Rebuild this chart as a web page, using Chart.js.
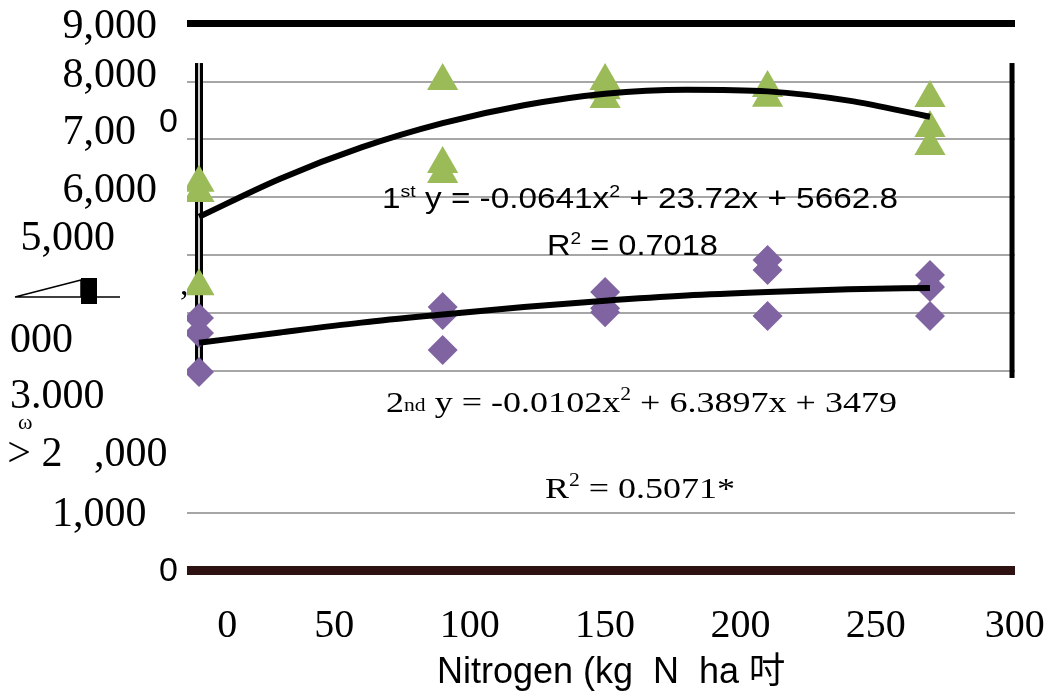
<!DOCTYPE html>
<html><head><meta charset="utf-8">
<script src="https://cdn.jsdelivr.net/npm/chart.js@4.4.1/dist/chart.umd.min.js"></script>
<style>html,body{margin:0;padding:0;background:#fff;}canvas{display:block;}</style>
</head><body>
<canvas id="c" width="1050" height="698"></canvas>
<script>
// ---- data ----
const nRates1 = [0,0,0, 90,90,90, 150,150,150, 210,210, 270,270,270];
const yield1  = [6250,6070,4460, 8010,6575,6400, 8010,7850,7700, 7890,7720, 7716,7197,6886];
const nRates2 = [0,0,0, 90,90,90, 150,150,150, 210,210,210, 270,270,270];
const yield2  = [3910,3650,2976, 4100,3962,3356, 4360,4080,4010, 4913,4740,3945, 4654,4446,3945];
const trendX  = [0,30,60,90,120,150,180,210,240,270];
const trend1  = [5660,6320,6860,7280,7590,7790,7860,7830,7670,7390];
const trend2  = [3480,3660,3830,3970,4100,4210,4300,4360,4405,4430];
const xTickLabels = ['0','50','100','150','200','250','300'];
const yTickLabels = ['9,000','8,000','7,00','0','6,000','5,000','000','3.000','> 2   ,000','1,000','0'];
const xTitle = '  Nitrogen (kg  N  ha 吋';

// ---- layout (not data) ----
const X_MIN=-4.43, X_MAX=301.4, Y_MIN=-484, Y_MAX=9030;
const xTickAt = [10.4,50,100,150,200,250,301.3];
const yTickAt = [8936,8097,7111,7284,6107,5277,3512,2543,1540,502,-484];
const yTickSpaces = [2,2,4,0,2,6,10,7,1,3,0];
const yGridAt = [-450,540,3000,4000,5000,6000,7000,8000,9000];

const pts = (xs, ys) => xs.map((v,i)=>({x:v,y:ys[i]}));

function rich(ctx, parts, x0, base, targetW){
  let w=0;
  parts.forEach(p=>{ctx.font=p.f; p.w=ctx.measureText(p.t).width; w+=p.w;});
  const s = targetW ? targetW/w : 1;
  ctx.save(); ctx.translate(x0, base); ctx.scale(s,1);
  ctx.textAlign='left'; ctx.textBaseline='alphabetic'; ctx.fillStyle='#000';
  let cx=0;
  parts.forEach(p=>{ctx.font=p.f; ctx.fillText(p.t, cx, p.dy||0); cx+=p.w;});
  ctx.restore();
}

const SANS='"Liberation Sans", Arial, sans-serif';
const SERIF='"Liberation Serif", "Times New Roman", serif';
const noPad = s => { s.paddingLeft=0; s.paddingRight=0; s.paddingTop=0; s.paddingBottom=0; };

const decor = {
  id:'decor',
  beforeDatasetsDraw(chart){
    const {ctx, scales:{x,y}} = chart;
    const top = y.getPixelForValue(8320), bot = y.getPixelForValue(2890);
    const xl = x.getPixelForValue(0), xr = x.getPixelForValue(300.3);
    ctx.save();
    ctx.fillStyle='#000';
    ctx.fillRect(xl-4, top, 8, bot-top);
    ctx.fillStyle='#fff';
    ctx.fillRect(xl-0.8, top, 1.6, bot-top);
    ctx.fillStyle='#000';
    ctx.fillRect(xr-2.5, top, 5, bot-top+1);
    ctx.restore();
  },
  afterDraw(chart){
    const ctx = chart.ctx;
    const s28 = '29px '+SANS, s17='17px '+SANS;
    rich(ctx,[{t:'1',f:s28},{t:'st',f:s17,dy:-11},{t:' y = -0.0641x',f:s28},{t:'2',f:s17,dy:-11},{t:' + 23.72x + 5662.8',f:s28}],382,208,516);
    rich(ctx,[{t:'R',f:s28},{t:'2',f:s17,dy:-11},{t:' = 0.7018',f:s28}],547,255,171);
    const t30='30px '+SERIF, t18='18px '+SERIF;
    rich(ctx,[{t:'2',f:t30},{t:'nd',f:t18,dy:-1},{t:' y = -0.0102x',f:t30},{t:'2',f:t18,dy:-12},{t:' + 6.3897x + 3479',f:t30}],386,412,511);
    rich(ctx,[{t:'R',f:t30},{t:'2',f:t18,dy:-12},{t:' = 0.5071*',f:t30}],545,498,190);
    // stray marks of the scanned axis
    ctx.save();
    ctx.fillStyle='#000'; ctx.font='22px '+SERIF; ctx.textAlign='left'; ctx.textBaseline='middle';
    ctx.fillText('ω',18,423);
    ctx.font='34px '+SERIF; ctx.fillText(',',180,286);
    ctx.strokeStyle='#000'; ctx.lineWidth=1.5;
    ctx.beginPath(); ctx.moveTo(15,297); ctx.lineTo(81,280); ctx.lineTo(81,297); ctx.moveTo(15,297); ctx.lineTo(120,297); ctx.stroke();
    ctx.fillRect(81,278,16,26);
    ctx.restore();
  }
};

new Chart(document.getElementById('c'), {
  type:'scatter',
  data:{
    datasets:[
      {type:'line', data:pts(trendX,trend1), borderColor:'#000', borderWidth:6, pointRadius:0, cubicInterpolationMode:'monotone', fill:false},
      {type:'line', data:pts(trendX,trend2), borderColor:'#000', borderWidth:6, pointRadius:0, cubicInterpolationMode:'monotone', fill:false},
      {data:pts(nRates1,yield1), pointStyle:'triangle', pointRadius:18, backgroundColor:'#9BBB59', borderColor:'#9BBB59', borderWidth:0},
      {data:pts(nRates2,yield2), pointStyle:'rectRot', pointRadius:15, backgroundColor:'#8064A2', borderColor:'#8064A2', borderWidth:0}
    ]
  },
  options:{
    responsive:false, animation:false, events:[],
    layout:{padding:{top:22,right:35,bottom:0,left:0}},
    plugins:{legend:{display:false}, tooltip:{enabled:false}},
    scales:{
      x:{type:'linear', min:X_MIN, max:X_MAX, display:false},
      xl:{type:'linear', position:'bottom', min:X_MIN, max:X_MAX,
        grid:{display:false, drawTicks:false}, border:{display:false},
        afterBuildTicks:s=>{s.ticks = xTickAt.map(v=>({value:v}));},
        afterFit:s=>{s.height = 698-572; noPad(s);},
        ticks:{autoSkip:false, maxRotation:0, padding:30, color:'#000',
          font:{family:SERIF, size:40},
          callback:(v,i)=>xTickLabels[i]},
        title:{display:true, text:xTitle, color:'#000', font:{family:SANS+', "Noto Sans CJK SC"', size:36}, padding:{top:0,bottom:3}}
      },
      y:{type:'linear', position:'left', min:Y_MIN, max:Y_MAX,
        ticks:{display:false}, border:{display:false},
        afterBuildTicks:s=>{s.ticks = yGridAt.map(v=>({value:v}));},
        afterFit:s=>{s.width = 0; noPad(s);},
        grid:{drawTicks:false,
          color:c=>c.tick.value===9000?'#000':(c.tick.value===-450?'#2e1212':'#a6a6a6'),
          lineWidth:c=>c.tick.value===9000?7:(c.tick.value===-450?9:2)}
      },
      yl:{type:'linear', position:'left', min:Y_MIN, max:Y_MAX,
        grid:{display:false, drawTicks:false}, border:{display:false},
        afterBuildTicks:s=>{s.ticks = yTickAt.map(v=>({value:v}));},
        afterFit:s=>{s.width = 187; noPad(s);},
        ticks:{autoSkip:false, padding:9, color:'#000',
          font:c=>({family: yTickLabels[c.index]==='0' ? SANS : SERIF, size: yTickLabels[c.index]==='0'?34:42}),
          callback:(v,i)=>yTickLabels[i] + ' '.repeat(yTickSpaces[i])}
      }
    }
  },
  plugins:[decor]
});
</script>
</body></html>
